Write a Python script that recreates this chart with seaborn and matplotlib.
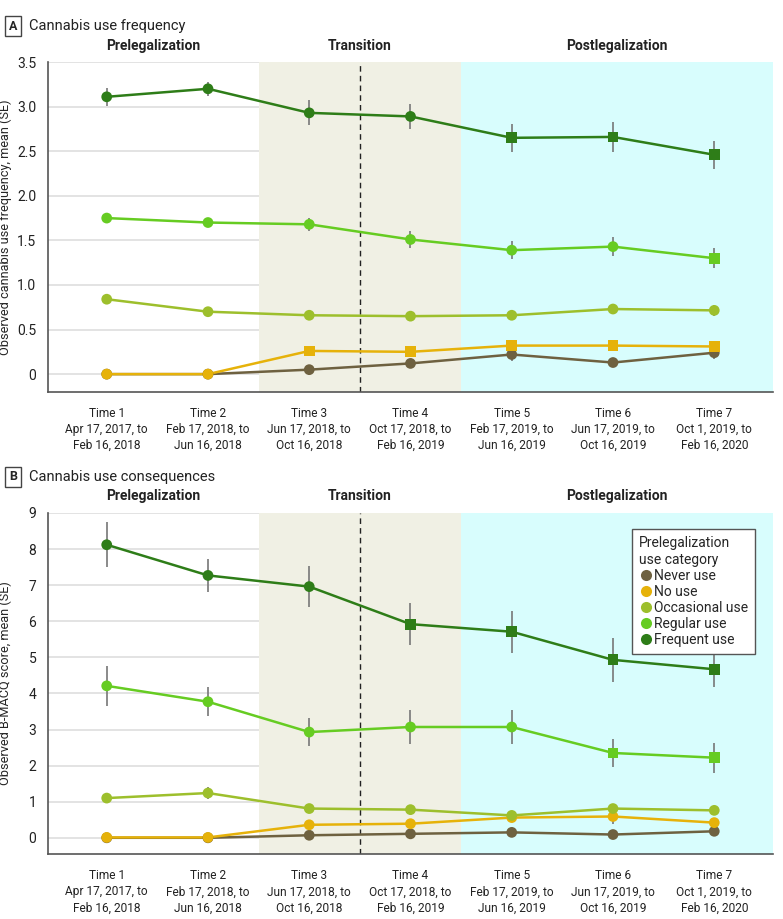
import matplotlib
matplotlib.use("Agg")
import matplotlib.pyplot as plt
import matplotlib.transforms as mtransforms
from matplotlib.lines import Line2D
import seaborn as sns
import pandas as pd

# --- data ---
times = [0, 1, 2, 3, 4, 5, 6]
time_labels = [
    "Time 1\nApr 17, 2017, to\nFeb 16, 2018",
    "Time 2\nFeb 17, 2018, to\nJun 16, 2018",
    "Time 3\nJun 17, 2018, to\nOct 16, 2018",
    "Time 4\nOct 17, 2018, to\nFeb 16, 2019",
    "Time 5\nFeb 17, 2019, to\nJun 16, 2019",
    "Time 6\nJun 17, 2019, to\nOct 16, 2019",
    "Time 7\nOct 1, 2019, to\nFeb 16, 2020",
]
categories = ["Never use", "No use", "Occasional use", "Regular use", "Frequent use"]
colors = ["#6e6140", "#e6b20a", "#9dbf2c", "#66cc22", "#2e7d18"]

# Panel A: cannabis use frequency (mean, SE, square marker flag)
freqA_mean = {
    "Never use":      [0.00, 0.00, 0.05, 0.12, 0.22, 0.13, 0.24],
    "No use":         [0.00, 0.00, 0.26, 0.25, 0.32, 0.32, 0.31],
    "Occasional use": [0.84, 0.70, 0.66, 0.65, 0.66, 0.73, 0.715],
    "Regular use":    [1.75, 1.70, 1.68, 1.51, 1.39, 1.43, 1.30],
    "Frequent use":   [3.11, 3.20, 2.93, 2.89, 2.65, 2.66, 2.46],
}
freqA_se = {
    "Never use":      [0.00, 0.00, 0.02, 0.03, 0.07, 0.04, 0.07],
    "No use":         [0.00, 0.00, 0.03, 0.03, 0.05, 0.06, 0.05],
    "Occasional use": [0.03, 0.03, 0.04, 0.05, 0.04, 0.06, 0.06],
    "Regular use":    [0.04, 0.05, 0.07, 0.10, 0.10, 0.11, 0.11],
    "Frequent use":   [0.10, 0.08, 0.14, 0.14, 0.16, 0.17, 0.16],
}
freqA_square = {
    "Never use":      [0, 0, 0, 0, 0, 0, 0],
    "No use":         [0, 0, 1, 1, 1, 1, 1],
    "Occasional use": [0, 0, 0, 0, 0, 0, 0],
    "Regular use":    [0, 0, 0, 0, 0, 0, 1],
    "Frequent use":   [0, 0, 0, 0, 1, 1, 1],
}

# Panel B: B-MACQ score
macqB_mean = {
    "Never use":      [0.00, 0.00, 0.07, 0.11, 0.15, 0.09, 0.18],
    "No use":         [0.01, 0.01, 0.36, 0.39, 0.56, 0.59, 0.42],
    "Occasional use": [1.10, 1.24, 0.81, 0.78, 0.62, 0.81, 0.76],
    "Regular use":    [4.21, 3.77, 2.93, 3.07, 3.07, 2.35, 2.22],
    "Frequent use":   [8.12, 7.27, 6.96, 5.92, 5.71, 4.93, 4.67],
}
macqB_se = {
    "Never use":      [0.00, 0.00, 0.03, 0.04, 0.06, 0.04, 0.08],
    "No use":         [0.00, 0.00, 0.06, 0.07, 0.10, 0.20, 0.08],
    "Occasional use": [0.07, 0.16, 0.08, 0.08, 0.12, 0.10, 0.09],
    "Regular use":    [0.55, 0.40, 0.38, 0.46, 0.46, 0.39, 0.42],
    "Frequent use":   [0.63, 0.46, 0.56, 0.58, 0.58, 0.60, 0.50],
}
macqB_square = {
    "Never use":      [0, 0, 0, 0, 0, 0, 0],
    "No use":         [0, 0, 0, 0, 0, 0, 0],
    "Occasional use": [0, 0, 0, 0, 0, 0, 0],
    "Regular use":    [0, 0, 0, 0, 0, 1, 1],
    "Frequent use":   [0, 0, 0, 1, 1, 1, 1],
}

sns.set_style("white")
plt.rcParams["font.family"] = ["Roboto", "DejaVu Sans"]

SPINE = "#555555"


def to_long(means, ses, squares):
    rows = []
    for cat in categories:
        for t, m, s, q in zip(times, means[cat], ses[cat], squares[cat]):
            rows.append({"time": t, "value": m, "se": s, "cat": cat,
                         "shape": "sq" if q else "ci"})
    return pd.DataFrame(rows)


def draw_panel(ax, df, ylim, yticks, ytick_labels, ylabel):
    ax.set_xlim(-0.58, 6.58)
    ax.set_ylim(*ylim)
    ax.set_axisbelow(True)
    ax.yaxis.grid(True, color="#dedede", linewidth=1.2)
    ax.axvspan(1.5, 3.5, color="#f0f0e4", linewidth=0, zorder=1)
    ax.axvspan(3.5, 6.58, color="#d8fdfd", linewidth=0, zorder=1)
    ax.axvline(2.5, color="#222222", linestyle=(0, (4, 3)), linewidth=1, zorder=1.2)

    for cat in categories:
        sub = df[df["cat"] == cat]
        ax.errorbar(sub["time"], sub["value"], yerr=sub["se"], fmt="none",
                    ecolor="#777777", elinewidth=1.2, zorder=1.5)
    sns.lineplot(data=df, x="time", y="value", hue="cat", hue_order=categories,
                 palette=colors, linewidth=1.8, legend=False, ax=ax, zorder=3)
    sns.scatterplot(data=df, x="time", y="value", hue="cat", hue_order=categories,
                    palette=colors, style="shape", markers={"ci": "o", "sq": "s"},
                    s=60, linewidth=0, legend=False, ax=ax, zorder=4)

    ax.set_xticks(times)
    ax.set_xticklabels(time_labels, fontsize=8.6, linespacing=1.3)
    ax.set_yticks(yticks)
    ax.set_yticklabels(ytick_labels, fontsize=10)
    ax.set_xlabel("")
    ax.set_ylabel(ylabel, fontsize=9.2)
    ax.yaxis.set_label_coords(-0.05, 0.5)
    for side in ["top", "right"]:
        ax.spines[side].set_visible(False)
    for side in ["left", "bottom"]:
        ax.spines[side].set_color(SPINE)
        ax.spines[side].set_linewidth(1.2)
    ax.tick_params(axis="both", colors=SPINE, length=5, width=1, labelcolor="#222222")
    ax.tick_params(axis="x", pad=6)

    trans = mtransforms.blended_transform_factory(ax.transData, ax.transAxes)
    for x, lab in [(0.46, "Prelegalization"), (2.5, "Transition"), (5.04, "Postlegalization")]:
        ax.text(x, 1.05, lab, transform=trans, ha="center", va="center",
                fontsize=10, fontweight="bold", color="#222222")


fig = plt.figure(figsize=(7.83, 9.19), dpi=100)
axA = fig.add_axes([0.0613, 0.5735, 0.9259, 0.359])
axB = fig.add_axes([0.0613, 0.0707, 0.9259, 0.3711])

dfA = to_long(freqA_mean, freqA_se, freqA_square)
dfB = to_long(macqB_mean, macqB_se, macqB_square)

draw_panel(axA, dfA, (-0.2, 3.5), [0, 0.5, 1.0, 1.5, 2.0, 2.5, 3.0, 3.5],
           ["0", "0.5", "1.0", "1.5", "2.0", "2.5", "3.0", "3.5"],
           "Observed cannabis use frequency, mean (SE)")
draw_panel(axB, dfB, (-0.45, 9), list(range(10)), [str(v) for v in range(10)],
           "Observed B-MACQ score, mean (SE)")

# panel headers
for letter, title, ypx in [("A", "Cannabis use frequency", 26), ("B", "Cannabis use consequences", 477)]:
    fig.text(13 / 783, 1 - ypx / 919, letter, ha="center", va="center", fontsize=9,
             fontweight="bold",
             bbox=dict(boxstyle="square,pad=0.3", facecolor="white", edgecolor="#444444", linewidth=1))
    fig.text(29 / 783, 1 - ypx / 919, title, ha="left", va="center", fontsize=10.5, color="#222222")

handles = [Line2D([], [], marker="o", linestyle="none", markersize=8,
                  markerfacecolor=c, markeredgewidth=0, label=cat)
           for cat, c in zip(categories, colors)]
leg = axB.legend(handles=handles, title="Prelegalization\nuse category",
                 loc="upper right", bbox_to_anchor=(0.985, 0.972), frameon=True,
                 fancybox=False, edgecolor="#555555", framealpha=1,
                 fontsize=10, title_fontsize=10, handletextpad=0.1,
                 labelspacing=0.15, borderpad=0.5, handlelength=1.0,
                 alignment="left")
leg.get_frame().set_linewidth(1)

fig.savefig("out.png", dpi=100)
